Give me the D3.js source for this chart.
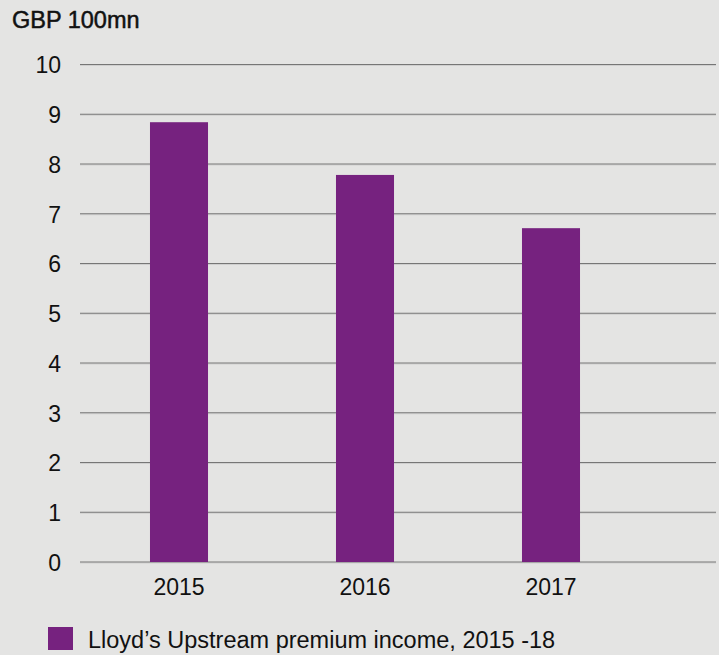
<!DOCTYPE html>
<html>
<head>
<meta charset="utf-8">
<script src="https://cdn.jsdelivr.net/npm/d3@7"></script>
<style>
  html, body { margin: 0; padding: 0; background: #e4e4e3; }
  svg { display: block; font-family: "Liberation Sans", Arial, sans-serif; }
</style>
</head>
<body>
<svg width="719" height="655"></svg>
<script>
let svg = d3.select("svg");

let years = ["2015", "2016", "2017"];
let premium = [8.84, 7.78, 6.71];
let y_ticks = [0, 1, 2, 3, 4, 5, 6, 7, 8, 9, 10];
let unit_label = "GBP 100mn";
let legend_label = "Lloyd\u2019s Upstream premium income, 2015 -18";

let bar_color = "#76227f";
let grid_left = 80;
let grid_right = 716;

let x_scale = d3.scaleBand()
  .domain(years)
  .range([86, 644])
  .paddingInner(0.688)
  .paddingOuter(0.344);
let y_scale = d3.scaleLinear()
  .domain([0, 10])
  .range([562, 64.5]);

svg.append("rect")
  .attr("width", 719)
  .attr("height", 655)
  .attr("fill", "#e4e4e3");

// unit label top left
svg.append("text")
  .attr("x", 12)
  .attr("y", 28)
  .style("font-size", "23.5px")
  .attr("fill", "#111")
  .attr("stroke", "#111")
  .attr("stroke-width", 0.5)
  .text(unit_label);

// gridlines with a faint light line below each
let grid = svg.append("g").attr("class", "grid");
grid.selectAll("line.light")
  .data(y_ticks)
  .enter().append("line")
    .attr("class", "light")
    .attr("x1", grid_left)
    .attr("x2", grid_right)
    .attr("y1", (d) => y_scale(d) + 1)
    .attr("y2", (d) => y_scale(d) + 1)
    .attr("stroke", "#cfcfcf")
    .attr("stroke-width", 1);
grid.selectAll("line.dark")
  .data(y_ticks)
  .enter().append("line")
    .attr("class", "dark")
    .attr("x1", grid_left)
    .attr("x2", grid_right)
    .attr("y1", (d) => y_scale(d))
    .attr("y2", (d) => y_scale(d))
    .attr("stroke", "#767676")
    .attr("stroke-width", 1.2);

// y axis labels, no axis line
let y_axis = svg.append("g")
  .attr("transform", "translate(61,0)")
  .call(d3.axisLeft(y_scale).tickValues(y_ticks).tickSize(0).tickPadding(0));
y_axis.select(".domain").remove();
y_axis.selectAll("text")
  .style("font-size", "23px")
  .style("font-family", "Liberation Sans, Arial, sans-serif")
  .attr("fill", "#111")
  .attr("dy", "0.36em");

// bars
svg.append("g")
  .selectAll("rect")
  .data(premium)
  .enter().append("rect")
    .attr("x", (d, i) => x_scale(years[i]))
    .attr("y", (d) => y_scale(d))
    .attr("width", x_scale.bandwidth())
    .attr("height", (d) => y_scale(0) - y_scale(d))
    .attr("fill", bar_color);

// x axis labels
let x_axis = svg.append("g")
  .attr("transform", "translate(0," + y_scale(0) + ")")
  .call(d3.axisBottom(x_scale).tickSize(0).tickPadding(0));
x_axis.select(".domain").remove();
x_axis.selectAll("text")
  .style("font-size", "23px")
  .style("font-family", "Liberation Sans, Arial, sans-serif")
  .attr("fill", "#111")
  .attr("y", 33)
  .attr("dy", 0);

// legend
let legend = svg.append("g").attr("transform", "translate(48,627)");
legend.append("rect")
  .attr("width", 25)
  .attr("height", 23)
  .attr("fill", bar_color);
legend.append("text")
  .attr("x", 40)
  .attr("y", 21)
  .style("font-size", "23.5px")
  .attr("fill", "#111")
  .text(legend_label);
</script>
</body>
</html>
